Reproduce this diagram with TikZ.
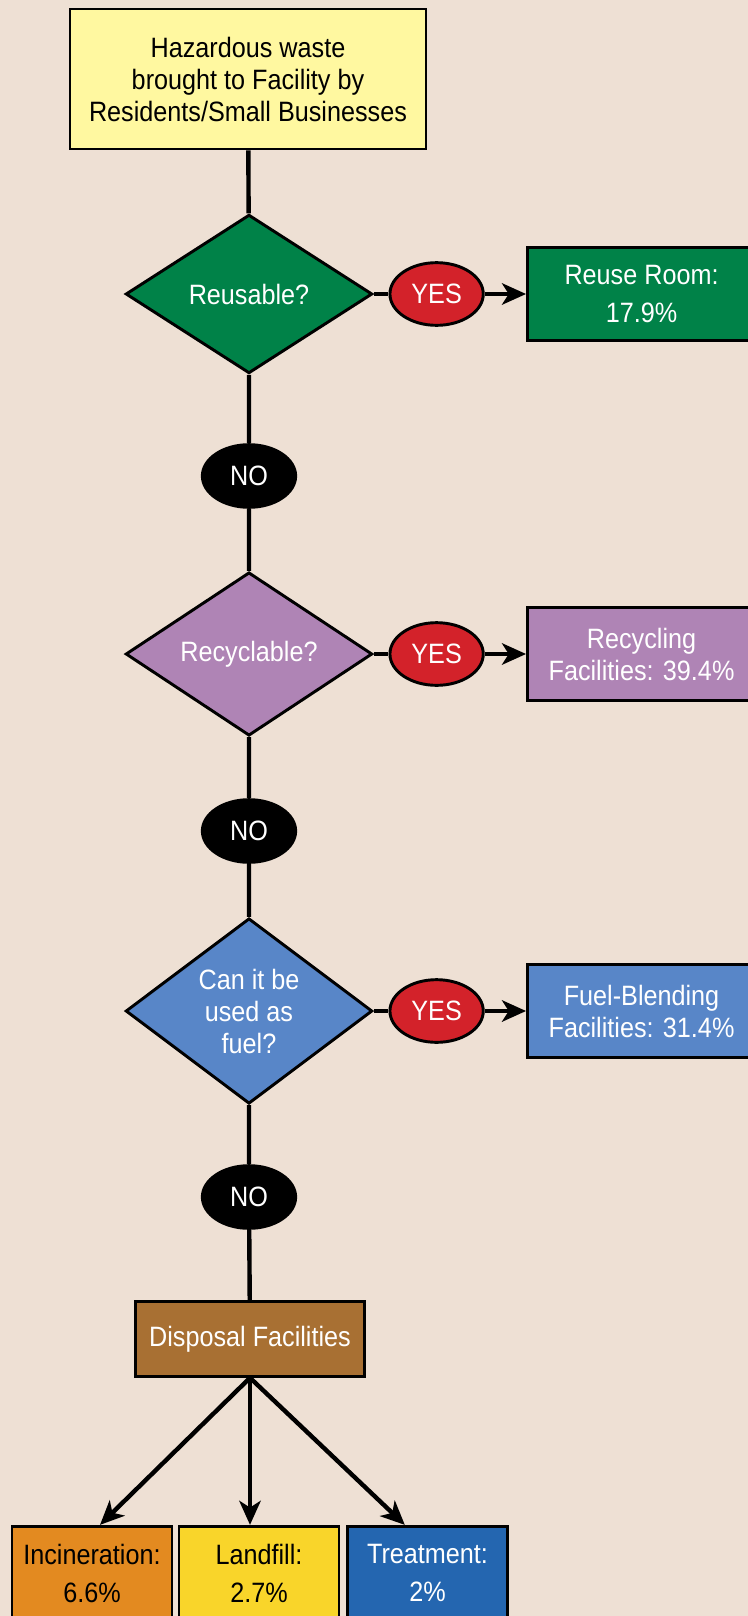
\documentclass[tikz,border=0pt]{standalone}
\usepackage{fontspec}
\setmainfont{Liberation Sans}[FakeStretch=0.9]
\usepackage{tikz}
\usetikzlibrary{positioning,shapes.geometric,arrows.meta}
\definecolor{bgbeige}{RGB}{238,224,212}
\definecolor{startyellow}{RGB}{255,248,160}
\definecolor{reusegreen}{RGB}{0,130,72}
\definecolor{recyclepurple}{RGB}{175,132,181}
\definecolor{fuelblue}{RGB}{88,134,200}
\definecolor{yesred}{RGB}{211,34,42}
\definecolor{disposalbrown}{RGB}{168,112,51}
\definecolor{incinorange}{RGB}{227,138,32}
\definecolor{landyellow}{RGB}{249,213,42}
\definecolor{treatblue}{RGB}{36,102,176}
\tikzset{%
  >={Stealth[length=18pt,width=16pt,inset=5pt]},
  box/.style={rectangle,draw=black,line width=2.2pt,inner sep=0pt,align=center,%
              text=white,font=\fontsize{21}{24}\selectfont},
  query/.style={diamond,draw=black,line width=2.2pt,inner sep=0pt,align=center,%
              minimum width=185pt,minimum height=119pt,text=white,%
              font=\fontsize{21}{24}\selectfont},
  answer/.style={ellipse,draw=black,line width=2.2pt,inner sep=0pt,%
              minimum width=70pt,minimum height=47pt,text=white,%
              font=\fontsize{21}{24}\selectfont},
  yes/.style={answer,fill=yesred},
  no/.style={answer,fill=black},
  result/.style={box,minimum width=171pt,minimum height=70pt},
  final/.style={box,minimum width=120pt,minimum height=70pt,%
              font=\fontsize{21}{28.5}\selectfont},
  flow/.style={draw,line width=3.3pt}
}
\begin{document}
\begin{tikzpicture}[x=0.75pt,y=-0.75pt]
  \fill[bgbeige] (0,0) rectangle (748,1616);
  \useasboundingbox (0,0) rectangle (748,1616);

  % main column
  \node[box,fill=startyellow,text=black,minimum width=267pt,minimum height=105pt] (start) at (248,79)
    {Hazardous waste\\brought to Facility by\\Residents/Small Businesses};
  \node[query,fill=reusegreen] (reusable) at (249,294) {Reusable?};
  \node[no] (no1) at (249,476) {NO};
  \node[query,fill=recyclepurple] (recyclable) at (249,654) {Recyclable?};
  \node[no] (no2) at (249,831) {NO};
  \node[query,fill=fuelblue] (fuel) at (249,1011) {Can it be\\used as\\fuel?};
  \node[no] (no3) at (249,1197) {NO};
  \node[box,fill=disposalbrown,minimum width=172pt,minimum height=56pt] (disposal) at (250,1339)
    {Disposal Facilities};

  % yes branches
  \node[yes,right=11pt of reusable] (yes1) {YES};
  \node[result,fill=reusegreen,right=31pt of yes1,font=\fontsize{21}{28}\selectfont] (reuse)
    {Reuse Room:\\17.9\%};
  \node[yes,right=11pt of recyclable] (yes2) {YES};
  \node[result,fill=recyclepurple,right=31pt of yes2] (recycling)
    {Recycling\\Facilities: 39.4\%};
  \node[yes,right=11pt of fuel] (yes3) {YES};
  \node[result,fill=fuelblue,right=31pt of yes3] (blending)
    {Fuel-Blending\\Facilities: 31.4\%};

  % disposal outlets
  \node[final,fill=incinorange,text=black] (incin) at (92,1573) {Incineration:\\6.6\%};
  \node[final,fill=landyellow,text=black] (landfill) at (259,1573) {Landfill:\\2.7\%};
  \node[final,fill=treatblue] (treat) at (427.5,1573) {Treatment:\\2\%};

  \draw[flow] (start) -- (reusable) -- (no1) -- (recyclable) -- (no2) -- (fuel)
    -- (no3) -- (disposal);
  \foreach \q/\a/\r in {reusable/yes1/reuse,recyclable/yes2/recycling,fuel/yes3/blending}{
    \draw[flow] (\q) -- (\a);
    \draw[flow,->] (\a) -- (\r);
  }
  \draw[flow,->] (disposal.south) -- ([xshift=6pt]incin.north);
  \draw[flow,->] (disposal.south) -- ([xshift=-6.75pt]landfill.north);
  \draw[flow,->] (disposal.south) -- ([xshift=-17pt]treat.north);
\end{tikzpicture}
\end{document}
